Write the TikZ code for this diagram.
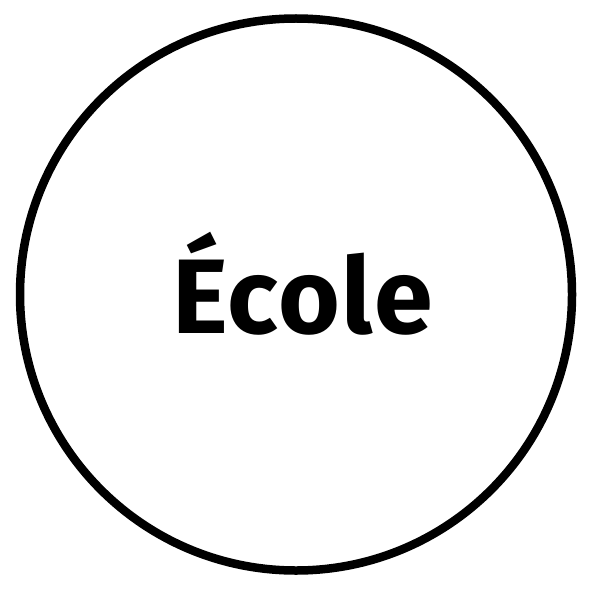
\documentclass[tikz,border=0pt]{standalone}
\usepackage{fontspec}
\setmainfont{Fira Sans}
\begin{document}
\begin{tikzpicture}[x=1pt,y=-1pt]
    \useasboundingbox(0,0)rectangle(609,588);
    \draw[line width=8.5pt](296,294.5)circle(276);%円
    \node[font=\fontsize{106}{112}\selectfont\bfseries,inner sep=0pt,anchor=base](ecole)at(302.5,333.5){\addfontfeature{LetterSpace=1.5}École};
  \end{tikzpicture}
\end{document}
